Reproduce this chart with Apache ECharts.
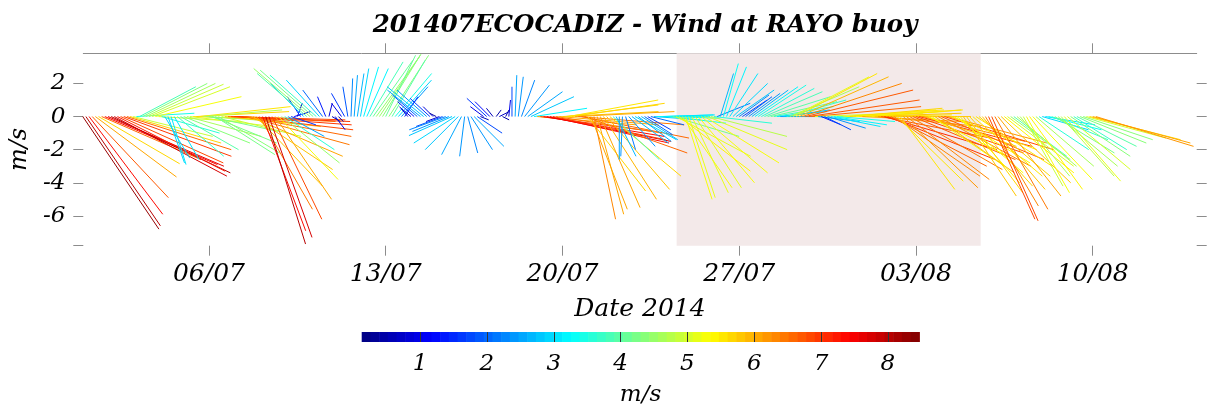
<!DOCTYPE html>
<html><head><meta charset="utf-8">
<script src="https://cdn.jsdelivr.net/npm/echarts@6/dist/echarts.min.js"></script>
<style>html,body{margin:0;padding:0;background:#fff}#c{width:1208px;height:408px}</style>
</head><body><div id="c"></div>
<script>
// ---- data: wind readings (u east, v north, m/s) every 3 h ----
const dates = ['2014-07-01','2014-07-02','2014-07-03','2014-07-04','2014-07-05','2014-07-06','2014-07-07','2014-07-08','2014-07-09','2014-07-10',
'2014-07-11','2014-07-12','2014-07-13','2014-07-14','2014-07-15','2014-07-16','2014-07-17','2014-07-18','2014-07-19','2014-07-20',
'2014-07-21','2014-07-22','2014-07-23','2014-07-24','2014-07-25','2014-07-26','2014-07-27','2014-07-28','2014-07-29','2014-07-30',
'2014-07-31','2014-08-01','2014-08-02','2014-08-03','2014-08-04','2014-08-05','2014-08-06','2014-08-07','2014-08-08','2014-08-09','2014-08-10'];
const hours = [0,3,6,9,12,15,18,21];
const windU = [
[4.6,4.5,4.45,4.6,4.9,4.9,6.0,6.8],
[7.0,7.2,6.8,6.5,6.2,6.5,6.3,5.5],
[4.8,3.5,3.4,3.9,4.2,4.5,4.7,5.2],
[5.0,3.5,1.5,1.0,0.9,1.5,2.8,3.5],
[4.0,4.5,5.0,5.5,5.6,5.5,4.8,4.5],
[4.2,3.9,3.6,3.7,4.8,5.8,6.5,6.9],
[7.0,6.9,6.8,6.5,6.2,5.6,4.8,4.0],
[3.2,2.6,2.4,2.6,3.0,3.4,3.6,3.5],
[3.0,2.2,1.5,1.0,0.3,-0.8,-2.0,-3.0],
[-3.4,-3.2,-2.8,-2.0,-1.2,-0.5,0.2,0.5],
[0.6,0.3,-0.6,-0.8,-0.3,0.1,0.2,0.4],
[0.5,0.9,1.3,2.0,2.4,2.6,2.5,2.3],
[1.8,2.4,2.0,2.2,2.0,1.6,0.8,-0.5],
[-0.6,-1.0,-1.5,-2.0,-2.2,-1.8,-1.2,-0.6],
[-0.4,-0.8,-1.6,-2.2,-2.2,-2.6,-2.5,-2.0],
[-1.2,-0.3,0.6,1.3,1.8,1.5,0.5,-0.8],
[-1.2,-0.9,-0.4,0.3,0.6,0.4,0.2,0.1],
[0.0,0.1,0.3,0.8,1.5,2.1,2.6,3.2],
[6.0,6.8,7.3,7.5,7.2,6.8,6.4,6.0],
[5.8,5.6,5.4,5.6,6.0,6.4,6.5,6.2],
[3.5,2.2,1.3,1.6,2.4,3.2,3.8,4.3],
[2.8,1.2,0.0,-0.1,0.6,1.6,2.2,2.5],
[2.0,2.2,1.7,1.4,2.0,2.8,3.2,3.2],
[3.1,3.2,3.4,4.0,4.5,4.3,3.0,1.6],
[1.6,2.2,2.8,3.4,4.0,4.5,4.8,4.6],
[3.5,2.0,0.8,0.9,1.2,1.7,2.1,2.3],
[1.8,1.5,1.6,1.9,2.2,2.6,2.9,3.2],
[3.5,3.8,4.0,3.6,3.0,2.5,2.8,3.6],
[4.2,4.6,4.9,5.4,6.0,6.5,6.7,6.6],
[5.0,2.5,1.2,1.6,2.3,3.0,3.2,3.5],
[4.0,4.8,5.4,5.6,5.5,5.3,5.6,6.0],
[5.8,5.6,5.5,5.8,6.2,6.6,6.8,6.5],
[5.8,5.2,4.0,3.3,4.5,5.0,5.6,6.2],
[6.5,6.8,6.2,5.5,4.8,4.4,4.8,5.6],
[6.2,6.6,6.0,5.2,4.6,4.0,3.6,3.2],
[3.4,3.8,4.2,4.6,4.3,3.8,3.2,2.8],
[2.8,3.2,3.8,4.2,4.2,4.0,3.6,3.2],
[3.6,3.0,2.4,2.6,3.2,3.6,3.5,3.0],
[2.8,3.0,3.2,3.4,3.6,3.6,3.2,3.4],
[3.8,3.6,3.2,3.6,4.0,4.2,4.8,5.5],
[5.9,5.9]
];
const windV = [
[-6.8,-6.6,-5.9,-4.9,-3.65,-2.85,-2.6,-2.9],
[-3.0,-3.4,-3.6,-3.3,-2.8,-2.4,-2.0,-1.6],
[-1.2,0.2,1.8,2.0,2.0,1.95,1.8,1.2],
[-0.3,-1.0,-2.5,-2.8,-2.9,-2.6,-2.4,-2.0],
[-1.6,-1.2,-0.6,-0.2,0.3,0.6,0.4,-0.3],
[-0.9,-1.6,-2.3,-2.2,-1.2,-0.6,-0.3,-0.2],
[-0.3,-0.5,-0.8,-1.2,-1.7,-2.4,-3.2,-4.2],
[-5.6,-6.9,-7.7,-7.3,-6.2,-5.0,-3.8,-2.8],
[-2.0,-1.2,-0.5,0.3,0.8,1.2,2.0,2.6],
[2.9,2.8,2.5,2.2,1.6,1.2,0.8,-0.3],
[-0.8,-0.3,0.8,1.4,1.8,2.3,2.5,2.6],
[2.9,3.0,2.9,3.3,3.4,3.6,3.75,3.75],
[3.7,3.7,3.4,2.6,2.2,1.8,1.2,0.6],
[0.5,0.9,1.3,1.6,1.8,1.6,1.1,0.6],
[0.2,-0.3,-0.6,-0.8,-0.9,-1.15,-1.6,-2.0],
[-2.3,-2.4,-2.2,-2.0,-1.8,-1.0,-0.2,0.6],
[1.1,0.9,0.5,0.4,0.3,-0.2,0.4,1.0],
[1.8,2.5,2.4,2.2,1.9,1.5,1.2,0.5],
[-0.5,-0.9,-1.2,-1.5,-1.6,-1.4,-1.0,-0.5],
[0.3,0.7,1.0,0.8,0.3,-0.5,-1.3,-2.2],
[-4.5,-5.6,-6.2,-5.9,-5.5,-5.0,-4.4,-3.6],
[-2.6,-2.4,-2.6,-2.4,-2.0,-1.8,-1.6,-1.4],
[-1.5,-1.4,-1.1,-0.8,-0.5,-0.2,0.0,0.1],
[0.1,-0.1,-0.4,-1.2,-2.4,-3.3,-4.3,-5.0],
[-4.9,-4.6,-4.3,-4.0,-3.4,-2.8,-2.0,-1.2],
[-0.4,0.8,2.6,3.2,3.0,2.6,2.0,1.6],
[1.3,1.0,1.2,1.4,1.6,1.8,1.9,1.7],
[1.5,1.2,0.9,0.6,0.3,0.0,0.4,1.0],
[1.8,2.4,2.6,2.4,2.0,1.6,1.0,0.6],
[0.2,-0.3,-0.5,-0.8,-0.7,-0.6,-0.5,-0.3],
[0.0,0.2,0.4,0.5,0.4,0.3,0.1,-0.3],
[0.2,0.4,0.4,0.0,-0.6,-1.3,-2.0,-2.6],
[-3.0,-3.6,-3.9,-4.4,-4.3,-3.8,-3.2,-2.6],
[-2.2,-1.8,-1.5,-1.8,-2.4,-3.0,-3.4,-3.0],
[-2.6,-2.0,-1.6,-2.0,-2.8,-3.4,-4.0,-4.8],
[-4.6,-4.2,-3.6,-3.0,-3.6,-4.4,-5.4,-6.2],
[-6.3,-5.6,-4.8,-4.0,-3.4,-3.0,-2.6,-2.4],
[-3.0,-3.6,-4.2,-4.6,-4.4,-3.8,-3.0,-2.0],
[-0.8,-0.5,-0.8,-1.4,-2.2,-3.0,-3.6,-3.9],
[-3.2,-2.4,-2.0,-1.8,-1.6,-1.4,-1.3,-1.4],
[-1.6,-1.8]
];
const xTickDates = ['2014-07-06','2014-07-13','2014-07-20','2014-07-27','2014-08-03','2014-08-10'];
const xTickLabels = ['06/07','13/07','20/07','27/07','03/08','10/08'];
const xRange = ['2014-07-01T00:32:00Z','2014-08-14T02:51:00Z'];
const yRange = [-7.8, 3.82];
const yTickValues = [-7.8,-6,-4,-2,0,2];
const yLabelValues = [-6,-4,-2,0,2];
const shadeRange = ['2014-07-24T12:30:00Z','2014-08-05T13:30:00Z'];
const speedRange = [0.126, 8.47];
const cbarTicks = [1,2,3,4,5,6,7,8];

// ---- helpers ----
const ms = s => Date.parse(s.length === 10 ? s + 'T00:00:00Z' : s);
const clamp = x => Math.max(0, Math.min(1, x));
function jet(x){
  const r = clamp(1.5 - Math.abs(4*x - 3)), g = clamp(1.5 - Math.abs(4*x - 2)), b = clamp(1.5 - Math.abs(4*x - 1));
  return 'rgb(' + Math.round(r*255) + ',' + Math.round(g*255) + ',' + Math.round(b*255) + ')';
}
const NLEV = 64;
function speedColor(s){
  let i = Math.floor((s - speedRange[0]) / (speedRange[1] - speedRange[0]) * NLEV);
  i = Math.max(0, Math.min(NLEV - 1, i));
  return jet((i + 0.5) / NLEV);
}
const sticks = [];
dates.forEach((d, i) => {
  windU[i].forEach((u, j) => {
    const v = windV[i][j];
    sticks.push([ms(d) + hours[j] * 3600000, u, v, Math.sqrt(u*u + v*v)]);
  });
});
const tickTimes = xTickDates.map(ms);
const serif = 'DejaVu Serif';
const txt = (size, extra) => Object.assign({fontFamily: serif, fontStyle: 'italic', fontSize: size, color: '#000'}, extra || {});
const gray = '#8c8c8c';

const chart = echarts.init(document.getElementById('c'), null, {renderer: 'canvas'});
chart.setOption({
  animation: false,
  backgroundColor: '#fff',
  title: {text: '201407ECOCADIZ - Wind at RAYO buoy', left: 640, top: 8, textAlign: 'center',
    textStyle: txt(24.5, {fontWeight: 'bold'})},
  grid: [
    {left: 83.3, right: 11.3, top: 53.3, bottom: 162.3},
    {left: 361.7, top: 332, width: 557.6, height: 10}
  ],
  xAxis: [
    {gridIndex: 0, type: 'value', position: 'bottom', min: ms(xRange[0]), max: ms(xRange[1]),
      axisLine: {show: false, onZero: false}, splitLine: {show: false},
      axisTick: {show: true, length: 10, customValues: tickTimes, lineStyle: {color: gray}},
      axisLabel: {customValues: tickTimes, margin: 16, formatter: v => xTickLabels[tickTimes.indexOf(v)], ...txt(25)},
      name: 'Date 2014', nameLocation: 'middle', nameGap: 51, nameTextStyle: txt(25)},
    {gridIndex: 0, type: 'value', position: 'top', min: ms(xRange[0]), max: ms(xRange[1]),
      axisLine: {show: true, onZero: false, lineStyle: {color: gray, width: 1}}, splitLine: {show: false},
      axisTick: {show: true, length: 10, customValues: tickTimes, lineStyle: {color: gray}},
      axisLabel: {show: false}},
    {gridIndex: 1, type: 'value', min: speedRange[0], max: speedRange[1], z: 10,
      axisLine: {show: false, onZero: false}, splitLine: {show: false},
      axisTick: {show: true, inside: true, length: 10, customValues: cbarTicks, lineStyle: {color: '#333'}},
      axisLabel: {customValues: cbarTicks, margin: 11, ...txt(23)},
      name: 'm/s', nameLocation: 'middle', nameGap: 42, nameTextStyle: txt(23)}
  ],
  yAxis: [
    {gridIndex: 0, type: 'value', position: 'left', min: yRange[0], max: yRange[1],
      axisLine: {show: false, onZero: false}, splitLine: {show: false},
      axisTick: {show: true, length: 10, customValues: yTickValues, lineStyle: {color: gray}},
      axisLabel: {customValues: yLabelValues, margin: 18, ...txt(23)},
      name: 'm/s', nameLocation: 'middle', nameGap: 48, nameRotate: 90, nameTextStyle: txt(24)},
    {gridIndex: 0, type: 'value', position: 'right', min: yRange[0], max: yRange[1],
      axisLine: {show: false, onZero: false}, splitLine: {show: false},
      axisTick: {show: true, length: 10, customValues: yTickValues, lineStyle: {color: gray}},
      axisLabel: {show: false}},
    {gridIndex: 1, type: 'value', min: 0, max: 1, show: false}
  ],
  series: [
    {type: 'custom', xAxisIndex: 0, yAxisIndex: 0, z: 1, silent: true,
      data: [[ms(shadeRange[0]), ms(shadeRange[1])]],
      encode: {x: [0, 1]},
      renderItem: (params, api) => {
        const a = api.coord([api.value(0), yRange[1]]);
        const b = api.coord([api.value(1), yRange[0]]);
        return {type: 'rect', shape: {x: a[0], y: a[1], width: b[0] - a[0], height: b[1] - a[1]},
          style: {fill: '#f3e9e9'}};
      }},
    {type: 'custom', xAxisIndex: 0, yAxisIndex: 0, z: 3, silent: true,
      data: sticks, encode: {x: 0, y: 2},
      renderItem: (params, api) => {
        const t = api.value(0), u = api.value(1), v = api.value(2), s = api.value(3);
        const p0 = api.coord([t, 0]);
        const unit = api.size([0, 1])[1];
        const x2 = p0[0] + u * unit, y2 = api.coord([t, v])[1];
        return {type: 'line', shape: {x1: p0[0], y1: p0[1], x2: x2, y2: y2},
          style: {stroke: speedColor(s), lineWidth: 1}};
      }},
    {type: 'custom', xAxisIndex: 2, yAxisIndex: 2, z: 2, silent: true,
      data: [[speedRange[0], speedRange[1]]], encode: {x: [0, 1]},
      renderItem: (params, api) => {
        const a = api.coord([api.value(0), 0]);
        const b = api.coord([api.value(1), 1]);
        const w = (b[0] - a[0]) / NLEV;
        const children = [];
        for (let i = 0; i < NLEV; i++) {
          children.push({type: 'rect', shape: {x: a[0] + i * w, y: b[1], width: w + 0.6, height: a[1] - b[1]},
            style: {fill: jet((i + 0.5) / NLEV)}});
        }
        return {type: 'group', children: children};
      }}
  ]
});
</script></body></html>
